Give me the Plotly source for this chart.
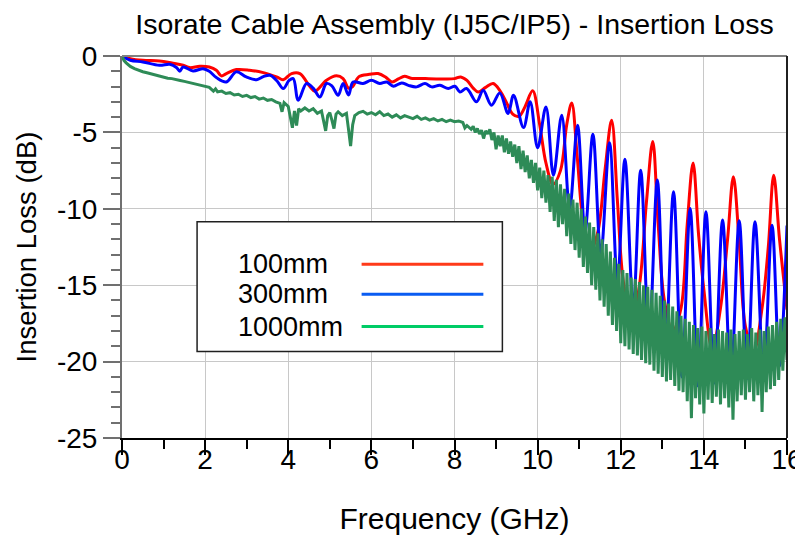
import plotly.graph_objects as go

# ---------------- data ----------------
series_names = ["100mm", "300mm", "1000mm"]

red_freq = [0, 0.2, 0.5, 0.9, 1.2, 1.47, 1.63, 1.87, 2.1, 2.27, 2.39, 2.51, 2.75, 3.07, 3.4,
            3.72, 3.88, 4.08, 4.28, 4.52, 4.64, 4.92, 5.16, 5.32, 5.45, 5.55, 5.7, 5.95, 6.16,
            6.35, 6.5, 6.65, 6.8, 6.95, 7.3, 7.7, 8.0, 8.15, 8.3, 8.45, 8.57, 8.75, 8.93, 9.1,
            9.26, 9.4, 9.55, 9.7, 9.88, 10.05, 10.2, 10.37, 10.55, 10.7, 10.82, 10.95, 11.1,
            11.27, 11.45, 11.62, 11.78, 11.92, 12.05, 12.25, 12.45, 12.62, 12.77, 12.9, 13.05,
            13.25, 13.45, 13.6, 13.74, 13.87, 14.0, 14.2, 14.4, 14.57, 14.71, 14.85, 15.0,
            15.2, 15.4, 15.55, 15.68, 15.82, 16.0]
red_loss = [0, -0.17, -0.28, -0.33, -0.46, -0.6, -0.76, -0.67, -0.72, -0.93, -1.3, -1.15,
            -0.89, -0.93, -1.09, -1.37, -1.55, -1.15, -1.15, -2.0, -2.3, -1.59, -1.3, -1.48,
            -2.1, -2.0, -1.35, -1.2, -1.15, -1.4, -1.7, -1.5, -1.33, -1.45, -1.48, -1.5,
            -1.48, -1.37, -1.6, -2.1, -2.35, -2.05, -1.8, -2.3, -3.1, -3.8, -3.95, -3.3,
            -2.28, -4.5, -7.0, -8.4, -7.5, -4.5, -3.07, -6.5, -11.0, -12.8, -11.5, -7.5,
            -4.2, -9.5, -14.5, -17.5, -15.0, -9.5, -5.6, -11.0, -16.0, -18.0, -16.5, -11.0,
            -7.0, -11.6, -15.3, -19.2, -16.5, -12.0, -7.9, -12.2, -17.7, -19.3, -16.5,
            -12.5, -7.8, -12.0, -16.6]

blue_freq = [0, 0.2, 0.5, 0.9, 1.15, 1.31, 1.39, 1.47, 1.71, 1.95, 2.1, 2.27, 2.51, 2.75,
             2.99, 3.24, 3.4, 3.56, 3.72, 3.88, 4.02, 4.12, 4.24, 4.44, 4.6, 4.76, 4.92,
             5.05, 5.2, 5.32, 5.45, 5.56, 5.8, 6.0, 6.2, 6.37, 6.53, 6.73, 6.89, 7.09, 7.29,
             7.45, 7.65, 7.85, 8.01, 8.13, 8.29, 8.53, 8.69, 8.89, 9.09, 9.29, 9.42, 9.66,
             9.82, 10.0, 10.2, 10.38, 10.58, 10.77, 10.96, 11.14, 11.33, 11.52, 11.73,
             11.92, 12.1, 12.3, 12.48, 12.68, 12.88, 13.07, 13.27, 13.47, 13.67, 13.86,
             14.05, 14.25, 14.45, 14.65, 14.85, 15.04, 15.23, 15.44, 15.64, 15.82, 16.0]
blue_loss = [0, -0.28, -0.39, -0.61, -0.54, -0.75, -1.0, -0.72, -0.98, -0.83, -1.0, -1.41,
             -1.7, -1.04, -1.37, -1.55, -1.35, -1.26, -1.6, -2.13, -1.6, -1.48, -2.9, -1.8,
             -2.1, -2.68, -1.8, -1.95, -2.57, -1.8, -2.55, -1.7, -1.8, -1.59, -1.8, -1.7,
             -1.98, -1.76, -1.92, -2.02, -1.8, -2.02, -1.92, -2.13, -1.98, -2.35, -2.13,
             -3.0, -2.24, -3.22, -2.42, -3.77, -2.57, -4.68, -3.0, -6.0, -3.33, -7.8, -3.88,
             -10.0, -4.53, -11.5, -5.12, -13.0, -5.68, -14.8, -6.75, -16.5, -7.47, -18.6,
             -8.12, -19.7, -8.89, -21.0, -9.98, -21.6, -10.2, -21.4, -10.74, -21.3, -10.78,
             -21.1, -10.85, -20.8, -11.07, -20.3, -11.1]

green_freq = [0.0, 0.05, 0.1, 0.2, 0.3, 0.4, 0.5, 0.6, 0.7, 0.8, 0.9, 1.0, 1.1, 1.2, 1.3,
              1.4, 1.5, 1.6, 1.7, 1.8, 1.9, 2.0, 2.1, 2.2, 2.25, 2.3, 2.4, 2.5, 2.6, 2.7,
              2.8, 2.9, 3.0, 3.1, 3.2, 3.3, 3.4, 3.5, 3.6, 3.7, 3.8, 3.85, 3.9, 4.0, 4.05,
              4.1, 4.15, 4.2, 4.25, 4.3, 4.4, 4.5, 4.6, 4.7, 4.8, 4.85, 4.9, 4.95, 5.0,
              5.05, 5.1, 5.15, 5.2, 5.3, 5.4, 5.45, 5.5, 5.55, 5.6, 5.7, 5.8, 5.9, 6.0,
              6.1, 6.2, 6.3, 6.4, 6.5, 6.6, 6.7, 6.8, 6.9, 7.0, 7.1, 7.2, 7.3, 7.4, 7.5,
              7.6, 7.7, 7.8, 7.9, 8.0, 8.1, 8.2, 8.25, 8.3, 8.4, 8.45, 8.5, 8.55, 8.6,
              8.65, 8.7, 8.75, 8.8, 8.85, 8.9, 8.95, 9.0, 9.05, 9.1, 9.15, 9.2, 9.25, 9.3,
              9.35, 9.4, 9.45, 9.5, 9.55, 9.6, 9.65, 9.7, 9.75, 9.8, 9.85, 9.9, 9.95, 10.0,
              10.05, 10.1, 10.15, 10.2, 10.25, 10.3, 10.35, 10.4, 10.45, 10.5, 10.55, 10.6,
              10.65, 10.7, 10.75, 10.8, 10.85, 10.9, 10.95, 11.0, 11.05, 11.1, 11.15, 11.2,
              11.25, 11.3, 11.35, 11.4, 11.45, 11.5, 11.55, 11.6, 11.65, 11.7, 11.75, 11.8,
              11.85, 11.9, 11.95, 12.0, 12.05, 12.1, 12.15, 12.2, 12.25, 12.3, 12.35, 12.4,
              12.45, 12.5, 12.55, 12.6, 12.65, 12.7, 12.75, 12.8, 12.85, 12.9, 12.95, 13.0,
              13.05, 13.1, 13.15, 13.2, 13.25, 13.3, 13.35, 13.4, 13.45, 13.5, 13.55, 13.6,
              13.65, 13.7, 13.75, 13.8, 13.85, 13.9, 13.95, 14.0, 14.05, 14.1, 14.15, 14.2,
              14.25, 14.3, 14.35, 14.4, 14.45, 14.5, 14.55, 14.6, 14.65, 14.7, 14.75, 14.8,
              14.85, 14.9, 14.95, 15.0, 15.05, 15.1, 15.15, 15.2, 15.25, 15.3, 15.35, 15.4,
              15.45, 15.5, 15.55, 15.6, 15.65, 15.7, 15.75, 15.8, 15.85, 15.9, 15.95, 16.0]
green_loss = [0.0, -0.3, -0.45, -0.68, -0.82, -0.95, -1.03, -1.1, -1.17, -1.25, -1.32, -1.36,
              -1.45, -1.48, -1.56, -1.6, -1.66, -1.72, -1.76, -1.84, -1.88, -1.97, -2.05,
              -2.3, -2.15, -2.35, -2.3, -2.45, -2.4, -2.55, -2.5, -2.65, -2.58, -2.72, -2.65,
              -2.82, -2.75, -2.9, -2.85, -3.0, -3.1, -3.65, -3.05, -3.3, -3.9, -4.7, -3.6,
              -4.55, -3.45, -3.6, -3.4, -3.6, -3.45, -3.75, -3.6, -4.3, -4.9, -3.9, -3.7,
              -4.2, -4.75, -3.8, -3.65, -3.9, -3.75, -4.8, -5.9, -4.5, -3.9, -3.7, -3.62,
              -3.8, -3.7, -3.85, -3.65, -3.9, -3.8, -4.0, -3.85, -4.05, -3.9, -4.0, -4.1,
              -3.95, -4.15, -4.05, -4.2, -4.1, -4.25, -4.15, -4.3, -4.2, -4.3, -4.25, -4.35,
              -4.7, -4.55, -4.8, -4.6, -5.0, -4.75, -5.1, -4.85, -5.4, -4.9, -5.1, -4.8,
              -5.5, -5.0, -6.1, -5.2, -5.9, -5.2, -6.3, -5.4, -6.4, -5.6, -6.6, -5.8, -7.0,
              -5.9, -7.4, -6.2, -7.6, -6.5, -8.0, -6.8, -8.3, -7.0, -8.8, -7.3, -9.3, -7.5,
              -9.6, -7.8, -10.2, -7.9, -10.8, -8.1, -11.2, -8.4, -11.0, -8.7, -11.8, -9.0,
              -12.3, -9.4, -12.7, -9.6, -13.2, -10.0, -13.8, -10.5, -14.2, -10.9, -15.0,
              -11.2, -15.3, -11.6, -16.0, -12.0, -16.4, -12.3, -17.0, -12.8, -17.6, -13.2,
              -18.0, -13.6, -18.8, -14.0, -19.0, -14.2, -19.2, -14.5, -19.5, -14.6, -19.6,
              -14.8, -19.9, -15.0, -20.1, -15.1, -20.2, -15.3, -20.6, -15.5, -20.8, -15.7,
              -21.0, -16.0, -21.3, -16.2, -21.2, -16.4, -21.6, -16.7, -21.9, -17.0, -22.0,
              -17.2, -22.6, -17.4, -23.7, -17.6, -22.4, -17.8, -22.8, -17.7, -23.4, -18.0,
              -22.5, -17.8, -22.7, -18.2, -22.3, -17.9, -22.8, -18.0, -22.4, -18.1, -23.0,
              -17.9, -23.8, -18.2, -22.6, -18.0, -22.2, -17.9, -22.5, -18.2, -22.0, -17.8,
              -22.6, -18.1, -22.2, -17.9, -23.3, -18.0, -22.0, -17.7, -21.8, -17.6, -21.6,
              -17.4, -21.2, -17.2, -20.6, -17.1, -19.9]

x_ticks = [0, 2, 4, 6, 8, 10, 12, 14, 16]
y_ticks = [0, -5, -10, -15, -20, -25]

plot_colors = ["#ff0000", "#0000ff", "#2e8b57"]
legend_colors = ["#ff3a1a", "#0a5cf2", "#00cc66"]

FONT = "Liberation Sans, Arial, sans-serif"

# the page body adds an 8px offset, so the figure is 8px smaller than the window
W, H = 795, 527

fig = go.Figure()
for name, fx, fy, col, shp in [
    (series_names[0], red_freq, red_loss, plot_colors[0], "spline"),
    (series_names[1], blue_freq, blue_loss, plot_colors[1], "spline"),
    (series_names[2], green_freq, green_loss, plot_colors[2], "linear"),
]:
    fig.add_trace(go.Scatter(x=fx, y=fy, mode="lines", name=name, showlegend=False,
                             line=dict(color=col, width=3, shape=shp)))

# plot-area frame: gray top, dark right
shapes = [
    dict(type="line", xref="paper", yref="paper", x0=0, x1=1, y0=1, y1=1,
         line=dict(color="#808080", width=2)),
    dict(type="line", xref="paper", yref="paper", x0=1, x1=1, y0=0, y1=1,
         line=dict(color="#202020", width=2)),
]

# custom legend box (labels left, line samples right)
lx0, lx1, ly0, ly1 = 0.1129, 0.572, 0.2263, 0.5661
shapes.append(dict(type="rect", xref="paper", yref="paper", x0=lx0, x1=lx1, y0=ly0, y1=ly1,
                   line=dict(color="#202020", width=1.5), fillcolor="white", layer="above"))
legend_rows = [0.4548, 0.3764, 0.2917]
annotations = []
for name, col, yy in zip(series_names, legend_colors, legend_rows):
    shapes.append(dict(type="line", xref="paper", yref="paper", x0=0.3603, x1=0.5434,
                       y0=yy, y1=yy, line=dict(color=col, width=3), layer="above"))
    annotations.append(dict(xref="paper", yref="paper", x=0.1711, y=yy, text=name,
                            showarrow=False, xanchor="left", yanchor="middle",
                            font=dict(family=FONT, size=27, color="black")))

fig.update_layout(
    width=W, height=H,
    margin=dict(l=114, r=16, t=48, b=97, autoexpand=False),
    paper_bgcolor="white", plot_bgcolor="white",
    font=dict(family=FONT, color="black"),
    title=dict(text="Isorate Cable Assembly (IJ5C/IP5) - Insertion Loss",
               x=0.5, xref="paper", xanchor="center",
               y=1 - 16 / H, yref="container", yanchor="middle", automargin=False,
               font=dict(family=FONT, size=28.5, color="black")),
    shapes=shapes,
    annotations=annotations,
)

fig.update_xaxes(
    range=[0, 16], tickvals=x_ticks, ticktext=[str(v) for v in x_ticks],
    automargin=False,
    showgrid=True, gridcolor="#c8c8c8", gridwidth=1,
    showline=True, linecolor="black", linewidth=2,
    ticks="outside", ticklen=15, tickwidth=1.5, tickcolor="black",
    ticklabelstandoff=-20,
    minor=dict(dtick=1, ticks="outside", ticklen=9, tickwidth=1.5, tickcolor="black",
               showgrid=False),
    tickfont=dict(family=FONT, size=28, color="black"),
    title=dict(text="Frequency (GHz)", font=dict(family=FONT, size=30, color="black"),
               standoff=42),
    zeroline=False,
)
fig.update_yaxes(
    range=[-25, 0], tickvals=y_ticks, ticktext=[str(v) for v in y_ticks],
    automargin=False,
    showgrid=True, gridcolor="#c8c8c8", gridwidth=1,
    showline=True, linecolor="#707070", linewidth=2,
    ticks="outside", ticklen=17, tickwidth=1.5, tickcolor="#707070",
    minor=dict(dtick=1, ticks="outside", ticklen=9, tickwidth=1.5, tickcolor="#707070",
               showgrid=False),
    tickfont=dict(family=FONT, size=28, color="black"),
    title=dict(text="Insertion Loss (dB)", font=dict(family=FONT, size=27.5, color="black"),
               standoff=12),
    zeroline=False,
)

fig.write_html("out.html")
